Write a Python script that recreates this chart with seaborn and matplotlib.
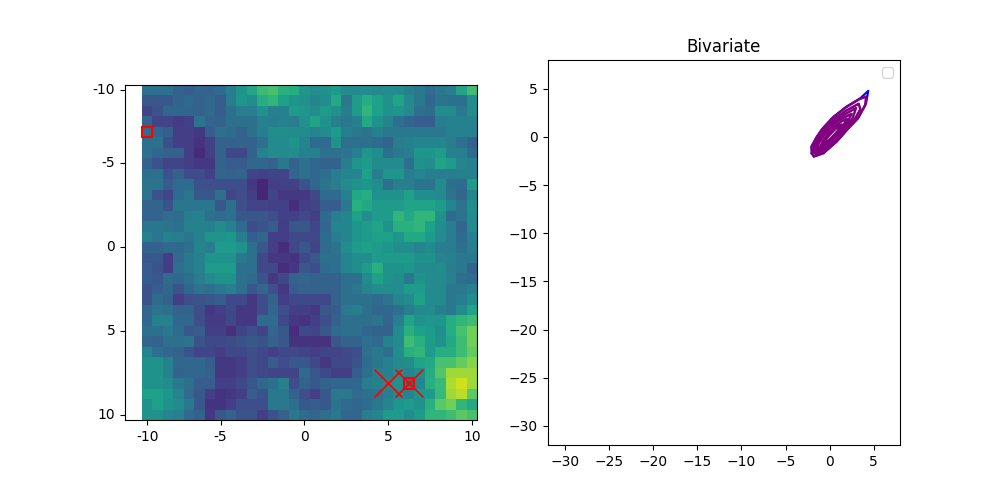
import numpy as np
import pandas as pd
import matplotlib
matplotlib.use("Agg")
import matplotlib.pyplot as plt
from matplotlib.patches import Rectangle
import seaborn as sns

left_rows = [
[30,30,30,24,22,25,25,28,36,47,55,65,68,60,58,48],
[20,20,20,24,27,24,27,22,36,48,44,58,62,53,47,45],
[12,18,26,26,26,24,27,22,30,36,36,45,38,38,50,48],
[25,12,12,9,11,32,25,24,30,30,30,38,36,38,36,45],
[30,26,22,10,10,8,22,30,28,24,30,36,44,44,43,43],
[30,30,17,10,10,6,11,24,24,24,24,30,42,42,46,40],
[30,26,24,24,10,3,11,24,14,14,24,38,42,42,44,38],
[24,18,12,12,10,8,8,24,22,22,26,26,24,34,24,30],
[30,30,18,24,15,15,11,25,24,25,12,11,12,12,25,30],
[32,32,22,28,28,17,17,16,16,16,8,2,10,11,11,18],
[32,18,13,28,33,20,20,30,13,16,10,2,12,8,8,8],
[25,25,18,33,33,33,33,20,30,17,12,12,11,11,4,10],
[25,25,29,28,36,38,30,28,30,20,20,20,16,11,11,14],
[33,33,32,30,38,38,38,42,38,28,15,18,22,10,20,20],
[38,33,38,36,33,38,47,47,48,36,22,26,10,10,14,14],
[24,24,27,27,30,40,36,50,50,46,30,20,10,4,14,20],
[20,20,10,28,34,38,47,46,46,34,30,14,8,8,6,14],
[22,18,10,30,34,38,50,50,50,30,30,14,14,4,8,20],
[22,20,28,26,30,36,42,46,46,30,28,18,8,14,24,26],
[18,22,26,18,26,32,30,34,38,30,20,26,16,8,22,24],
[18,28,24,10,16,18,20,22,14,14,8,16,24,10,14,14],
[26,32,30,24,24,16,8,10,14,8,8,16,26,16,10,10],
[26,38,38,26,26,16,9,9,14,8,8,28,28,14,8,6],
[30,30,34,28,20,22,10,10,5,12,16,12,26,20,4,14],
[26,24,30,30,32,18,14,14,15,18,20,18,24,20,6,6],
[40,30,26,24,18,12,12,10,14,14,16,14,10,14,14,12],
[46,46,38,26,26,26,22,8,8,10,16,14,22,16,20,20],
[46,46,38,24,26,26,24,8,8,10,16,14,12,12,12,28],
[46,46,42,34,30,22,22,10,10,14,20,26,30,36,16,24],
[52,52,48,40,28,20,10,6,8,10,22,18,34,34,24,16],
[46,52,46,42,34,20,6,6,10,16,16,16,34,34,30,20],
[46,46,40,38,28,24,8,20,24,18,18,10,18,24,34,28],
]
right_rows = [
[44,46,50,42,42,44,42,44,44,38,34,28,34,36,54,66],
[40,44,56,34,50,58,52,46,54,42,34,26,32,30,30,44],
[44,50,46,36,50,62,52,46,48,42,30,28,44,44,34,42],
[54,46,38,34,38,56,46,40,30,26,22,22,36,38,38,38],
[40,42,50,36,34,32,38,34,34,34,34,34,34,38,38,38],
[28,28,46,30,30,30,28,24,36,38,40,40,40,36,30,24],
[38,30,30,32,36,48,44,30,34,36,48,48,50,38,36,28],
[26,24,24,36,48,50,42,42,42,30,46,44,54,50,40,38],
[26,30,36,40,40,52,36,48,48,36,40,36,36,36,38,38],
[26,32,36,42,46,48,44,30,36,36,32,32,42,30,28,50],
[14,28,28,38,56,58,46,46,46,52,44,44,42,32,26,40],
[12,22,22,34,60,56,50,50,50,54,54,54,50,40,32,44],
[10,28,36,40,52,44,50,50,62,56,62,62,46,28,32,42],
[13,26,40,40,48,50,54,46,60,60,62,52,44,36,26,42],
[14,28,36,40,48,50,52,52,48,56,56,50,42,36,28,38],
[12,28,32,44,50,52,50,48,44,44,40,42,36,36,30,36],
[20,30,30,40,44,44,50,50,50,50,46,46,40,38,34,34],
[16,28,30,40,44,50,60,46,46,48,42,42,44,36,34,24],
[24,24,24,30,30,42,52,46,44,34,46,42,42,38,30,28],
[24,24,24,30,34,40,44,44,44,50,50,42,42,34,34,38],
[14,14,24,30,30,30,28,32,40,42,52,42,42,34,36,44],
[8,20,22,34,36,30,26,26,30,36,42,42,38,34,44,54],
[10,16,24,30,30,30,32,26,36,54,46,48,48,58,62,66],
[12,20,28,30,30,26,24,24,42,60,52,50,44,58,68,76],
[6,6,20,24,24,30,28,38,42,66,60,50,46,56,66,76],
[10,12,12,14,16,30,34,30,44,60,62,50,58,58,66,74],
[14,8,14,14,18,28,34,38,42,44,54,56,68,68,74,80],
[20,14,10,10,22,30,38,38,44,40,44,58,70,84,84,84],
[20,24,26,26,26,36,38,42,46,36,40,60,64,86,92,84],
[10,20,34,34,28,30,32,38,42,40,48,50,64,84,88,72],
[22,20,32,28,26,28,34,40,48,50,46,60,72,76,62,56],
[26,30,34,26,26,36,40,50,50,44,50,62,62,66,72,68],
]
tick_cells = [0, 7, 15, 23, 31]
tick_labels = ["-10", "-5", "0", "5", "10"]
x_marks = [23, 25]
x_rows = [28, 28]
box_cols = [0, 25]
box_rows = [4, 28]
dot_col = [25]
dot_row = [28]

blue_x = [-2.0,-2.05,-1.45,-0.85,0.4,1.9,3.4,4.4,4.15,3.25,2.1,0.8,-0.7,-1.8,-2.0]
blue_y = [-1.7,-1.0,0.0,0.8,2.05,3.15,3.95,4.8,3.5,1.95,0.85,-0.5,-1.7,-2.05,-1.7]
p1_x = [-2.0,-2.05,-1.45,-0.85,0.4,1.9,3.3,4.15,4.05,3.2,2.1,0.8,-0.7,-1.75,-2.0]
p1_y = [-1.7,-1.0,0.0,0.8,2.05,3.1,3.9,4.2,3.3,1.95,0.9,-0.45,-1.65,-2.0,-1.7]
p2_x = [-1.8,-1.75,-1.1,-0.5,0.6,1.9,3.3,3.5,2.9,1.9,0.7,-0.6,-1.5,-1.8]
p2_y = [-1.6,-0.9,0.1,0.85,1.9,2.75,3.45,2.9,1.9,0.95,-0.3,-1.4,-1.8,-1.6]
p3_x = [-1.6,-1.5,-0.9,-0.2,0.8,1.9,3.0,2.6,1.7,0.6,-0.5,-1.3,-1.6]
p3_y = [-1.5,-0.8,0.1,0.95,1.8,2.45,3.0,1.9,1.0,-0.1,-1.2,-1.6,-1.5]
p4_x = [-1.4,-1.2,-0.6,0.1,1.0,2.0,2.5,2.0,1.1,0.3,-0.5,-1.1,-1.4]
p4_y = [-1.3,-0.6,0.2,0.95,1.7,2.2,2.4,1.5,0.6,-0.2,-1.0,-1.4,-1.3]
p5_x = [-1.1,-0.8,-0.2,0.5,1.3,2.0,1.5,0.7,0.1,-0.6,-1.1]
p5_y = [-1.1,-0.5,0.3,1.0,1.6,1.9,1.1,0.3,-0.3,-0.9,-1.1]
p6_x = [-0.7,-0.3,0.4,1.1,1.4,0.9,0.2,-0.4,-0.7]
p6_y = [-0.7,-0.1,0.6,1.2,1.3,0.6,-0.1,-0.6,-0.7]

matrix = np.hstack([np.array(left_rows), np.array(right_rows)])

fig, (ax1, ax2) = plt.subplots(1, 2, figsize=(10, 5), dpi=100)

sns.heatmap(pd.DataFrame(matrix), ax=ax1, cmap="viridis", vmin=-10, vmax=100,
            cbar=False, square=True, linewidths=0, rasterized=True)
ax1.set_aspect("equal", adjustable="box")
for side in ax1.spines.values():
    side.set_visible(True)
    side.set_linewidth(0.8)
centers = [c + 0.5 for c in tick_cells]
ax1.set_xticks(centers, tick_labels, rotation=0)
ax1.set_yticks(centers, tick_labels, rotation=0)
ax1.tick_params(length=3.5, width=0.8, labelsize=10)
ax1.set_xlabel("")
ax1.set_ylabel("")

sns.scatterplot(x=[c + 0.5 for c in x_marks], y=[r + 0.5 for r in x_rows], ax=ax1,
                marker="x", s=400, color="red", linewidth=1.2, legend=False, zorder=3)
sns.scatterplot(x=[c + 0.5 for c in dot_col], y=[r + 0.5 for r in dot_row], ax=ax1,
                marker="o", s=8, color="red", linewidth=0.9, legend=False, zorder=3)
dot_points = ax1.collections[-1]
dot_points.set_facecolor("none")
dot_points.set_edgecolor("red")
for c, r in zip(box_cols, box_rows):
    ax1.add_patch(Rectangle((c, r), 1, 1, fill=False, edgecolor="red", linewidth=1.5, zorder=3))
ax1.set_xlim(-1.62, 32)
ax1.set_ylim(32, 0)

sns.lineplot(x=blue_x, y=blue_y, ax=ax2, color="blue", sort=False, estimator=None, linewidth=1.5)
for xs, ys in [(p1_x, p1_y), (p2_x, p2_y), (p3_x, p3_y), (p4_x, p4_y), (p5_x, p5_y), (p6_x, p6_y)]:
    sns.lineplot(x=xs, y=ys, ax=ax2, color="purple", sort=False, estimator=None, linewidth=1.8)
ax2.set_xlim(-32, 8)
ax2.set_ylim(-32, 8)
ax2.set_xticks(range(-30, 6, 5))
ax2.set_yticks(range(-30, 6, 5))
ax2.set_xlabel("")
ax2.set_ylabel("")
ax2.set_title("Bivariate", fontsize=12)
ax2.legend(handles=[], loc="upper right")

fig.savefig("out.png", dpi=100)
